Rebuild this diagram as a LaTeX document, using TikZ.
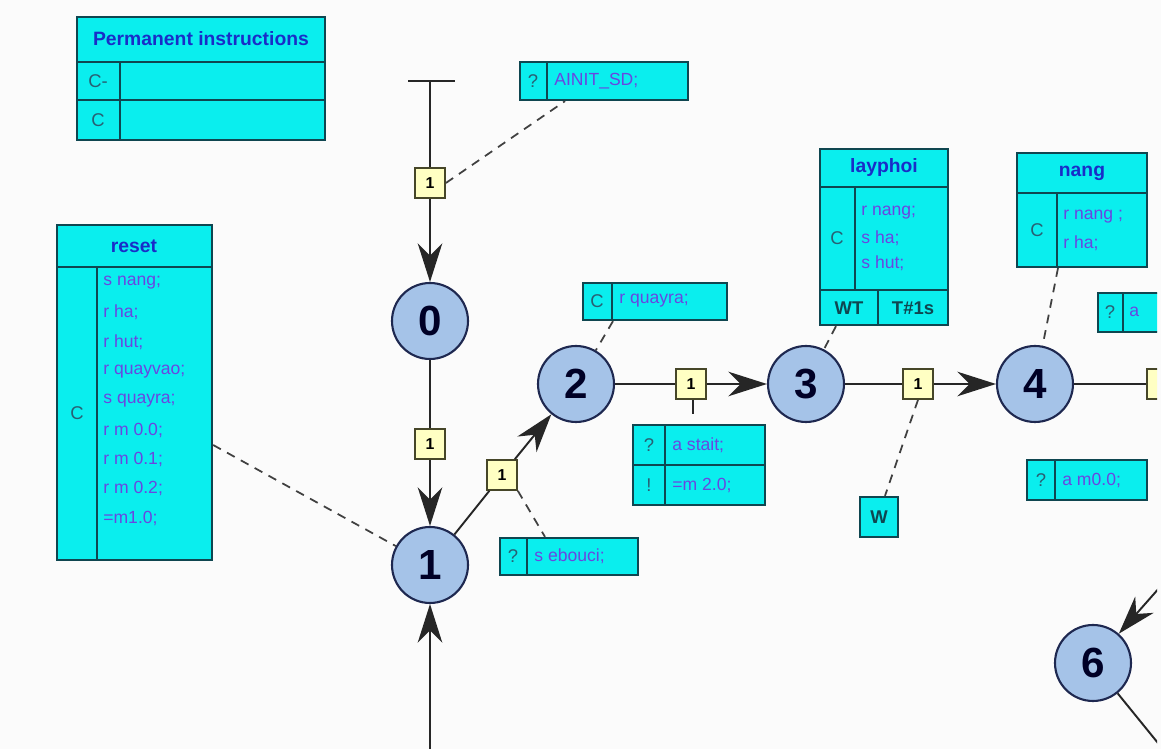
\documentclass[tikz,border=0pt]{standalone}
\usepackage{fontspec}
\setmainfont{Liberation Sans}
\usetikzlibrary{arrows.meta,fit,calc}
\definecolor{bgc}{RGB}{251,251,251}
\definecolor{tcyan}{RGB}{10,238,238}
\definecolor{tbord}{RGB}{15,70,80}
\definecolor{hblue}{RGB}{25,45,200}
\definecolor{cpurp}{RGB}{105,70,225}
\definecolor{lteal}{RGB}{40,95,115}
\definecolor{cfill}{RGB}{165,195,232}
\definecolor{cbord}{RGB}{30,40,80}
\definecolor{tyel}{RGB}{255,255,195}
\definecolor{tyb}{RGB}{70,70,40}
\begin{document}
\begin{tikzpicture}[x=0.02cm,y=-0.02cm,
  tbl/.style={draw=tbord,fill=tcyan,line width=1.3pt,inner sep=0pt},
  tline/.style={draw=tbord,line width=1.3pt},
  hdr/.style={text=hblue,font=\bfseries\fontsize{11}{12}\selectfont},
  ctx/.style={text=cpurp,anchor=west,inner sep=0pt,font=\fontsize{10}{12}\selectfont},
  ltx/.style={text=lteal,inner sep=0pt,font=\fontsize{10.5}{12}\selectfont},
  stepc/.style={circle,draw=cbord,fill=cfill,line width=1.2pt,minimum size=1.52cm,inner sep=0pt,font=\bfseries\fontsize{24}{26}\selectfont,text=black!85!blue},
  trans/.style={rectangle,draw=tyb,fill=tyel,line width=1pt,minimum size=0.6cm,inner sep=0pt,font=\bfseries\fontsize{9}{10}\selectfont},
  conn/.style={draw=black!85,line width=1.1pt},
  arr/.style={conn,-{Stealth[length=22pt,width=14pt,inset=7pt]}},
  dsh/.style={draw=black!75,line width=1pt,dash pattern=on 5pt off 4pt}
]
\fill[bgc] (0,0) rectangle (1161,749);
\begin{scope}
\clip (0,0) rectangle (1157,749);

% Permanent instructions
\node[tbl,fit={(77,17) (325,140)}] (perm) {};
\draw[tline] (77,62) -- (325,62) (77,100) -- (325,100) (120,62) -- (120,140);
\node[hdr] (permh) at (201,39) {Permanent instructions};
\node[ltx] (perm1) at (98,81) {C-};
\node[ltx] (perm2) at (98,120) {C};

% reset
\node[tbl,fit={(57,225) (212,560)}] (reset) {};
\draw[tline] (57,267) -- (212,267) (97,267) -- (97,560);
\node[hdr] (reseth) at (134,246) {reset};
\node[ltx] (resetl) at (77,413) {C};
\foreach \t [count=\i] in {s nang;,r ha;,r hut;,r quayvao;,s quayra;,r m 0.0;,r m 0.1;,r m 0.2;,=m1.0;}
  \node[ctx] (rc\i) at (103,{283+29.4*(\i-1)}) {\t};

% AINIT
\node[tbl,fit={(520,62) (688,100)}] (ainit) {};
\draw[tline] (547,62) -- (547,100);
\node[ltx] (ainitl) at (533,81) {?};
\node[ctx] (ainitc) at (554,81) {AINIT\_SD;};

% C r quayra
\node[tbl,fit={(583,283) (727,320)}] (cq) {};
\draw[tline] (612,283) -- (612,320);
\node[ltx] (cql) at (597,301) {C};
\node[ctx] (cqc) at (619,301) {r quayra;};

% a stait table
\node[tbl,fit={(633,425) (765,505)}] (ast) {};
\draw[tline] (633,465) -- (765,465) (665,425) -- (665,505);
\node[ltx] (astl1) at (649,445) {?};
\node[ctx] (astc1) at (672,445) {a stait;};
\node[ltx] (astl2) at (649,485) {!};
\node[ctx] (astc2) at (672,485) {=m 2.0;};

% s ebouci
\node[tbl,fit={(500,538) (638,575)}] (seb) {};
\draw[tline] (527,538) -- (527,575);
\node[ltx] (sebl) at (513,556) {?};
\node[ctx] (sebc) at (534,556) {s ebouci;};

% layphoi
\node[tbl,fit={(820,149) (948,325)}] (lay) {};
\draw[tline] (820,187) -- (948,187) (820,290) -- (948,290) (855,187) -- (855,290) (878,290) -- (878,325);
\node[hdr] (layh) at (884,168) {layphoi};
\node[ltx] (layl) at (837,238) {C};
\node[ctx] (layc1) at (861,213) {r nang;};
\node[ctx] (layc2) at (861,238) {s ha;};
\node[ctx] (layc3) at (861,263) {s hut;};
\node[ltx,font=\bfseries\fontsize{10.5}{12}\selectfont,text=tbord] (layw) at (849,308) {WT};
\node[ltx,font=\bfseries\fontsize{10.5}{12}\selectfont,text=tbord] (layt) at (913,308) {T\#1s};

% nang
\node[tbl,fit={(1017,153) (1147,267)}] (nang) {};
\draw[tline] (1017,193) -- (1147,193) (1057,193) -- (1057,267);
\node[hdr] (nangh) at (1082,173) {nang};
\node[ltx] (nangl) at (1037,230) {C};
\node[ctx] (nangc1) at (1063,217) {r nang ;};
\node[ctx] (nangc2) at (1063,243) {r ha;};

% partial box right
\node[tbl,fit={(1098,293) (1190,332)}] (pr) {};
\draw[tline] (1123,293) -- (1123,332);
\node[ltx] (prl) at (1110,312) {?};
\node[ctx] (prc) at (1129,312) {a};

% a m0.0
\node[tbl,fit={(1027,460) (1147,500)}] (am) {};
\draw[tline] (1055,460) -- (1055,500);
\node[ltx] (aml) at (1041,480) {?};
\node[ctx] (amc) at (1062,480) {a m0.0;};

% W box
\node[tbl,fit={(860,497) (898,537)}] (wbox) {};
\node[ltx,font=\bfseries\fontsize{10.5}{12}\selectfont,text=tbord] (wl) at (879,517) {W};

% steps
\node[stepc] (s0) at (430,321) {0};
\node[stepc] (s1) at (430,565) {1};
\node[stepc] (s2) at (576,384) {2};
\node[stepc] (s3) at (806,384) {3};
\node[stepc] (s4) at (1035,384) {4};
\node[stepc] (s6) at (1093,663) {6};

% transitions
\node[trans] (t0i) at (430,183) {1};
\node[trans] (t01) at (430,444) {1};
\node[trans] (t12) at (502,475) {1};
\node[trans] (t23) at (691,384) {1};
\node[trans] (t34) at (918,384) {1};
\node[trans] (t4x) at (1162,384) {};

% coordinates
\coordinate (init) at (430,81);
\coordinate (initl) at (408,81);
\coordinate (initr) at (455,81);
\coordinate (bot) at (430,749);
\coordinate (t23e) at (693,414);
\coordinate (s6in) at (1168,578);
\coordinate (s6out) at (1162,748);

% connectors
\draw[conn,line width=1.6pt] (initl) -- (initr);
\draw[conn] (init) -- (t0i);
\draw[arr] (t0i) -- (s0);
\draw[conn] (s0) -- (t01);
\draw[arr] (t01) -- (s1);
\draw[arr] (bot) -- (s1);
\draw[conn] (s1) -- (t12);
\draw[arr] (t12) -- (s2);
\draw[conn] (s2) -- (t23);
\draw[arr] (t23) -- (s3);
\draw[conn] (s3) -- (t34);
\draw[arr] (t34) -- (s4);
\draw[conn] (s4) -- (t4x);
\draw[conn] (t23.south -| t23e) -- (t23e);
\draw[arr] (s6in) -- (s6);
\draw[conn] (s6) -- (s6out);

% dashed links
\draw[dsh] (t0i.east) -- (ainit.south west -| 565,0);
\draw[dsh] (reset.east |- 0,445) -- (s1);
\draw[dsh] (t12.south east) -- (seb.north -| 545,0);
\draw[dsh] (cq.south -| 613,0) -- (s2);
\draw[dsh] (lay.south -| 836,0) -- (s3);
\draw[dsh] (t34.south) -- (wbox.north -| 885,0);
\draw[dsh] (nang.south -| 1058,0) -- (s4);
\end{scope}
\end{tikzpicture}
\end{document}
